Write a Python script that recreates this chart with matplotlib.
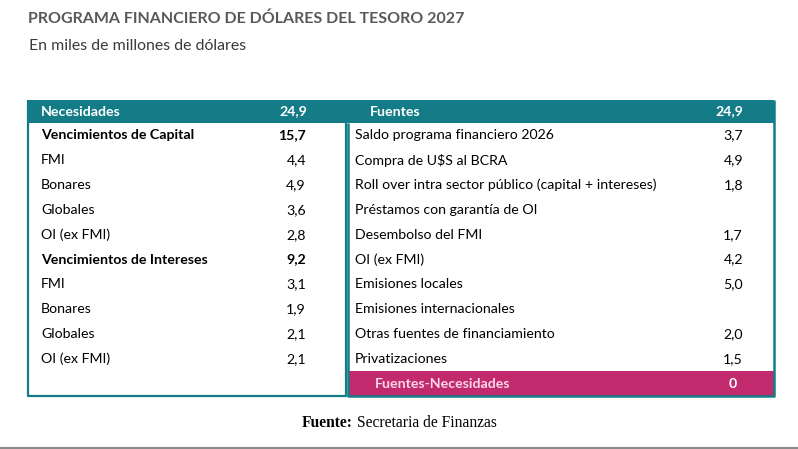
import matplotlib.pyplot as plt
import matplotlib.patches as mpatches

# data
titulo = "PROGRAMA FINANCIERO DE DÓLARES DEL TESORO 2027"
subtitulo = "En miles de millones de dólares"
fuente = "Secretaria de Finanzas"

nec_total = "24,9"
fuentes_total = "24,9"
nec_labels = ["Vencimientos de Capital", "FMI", "Bonares", "Globales", "OI (ex FMI)",
              "Vencimientos de Intereses", "FMI", "Bonares", "Globales", "OI (ex FMI)"]
nec_values = ["15,7", "4,4", "4,9", "3,6", "2,8", "9,2", "3,1", "1,9", "2,1", "2,1"]
nec_bold = [True, False, False, False, False, True, False, False, False, False]

fte_labels = ["Saldo programa financiero 2026", "Compra de U$S al BCRA",
              "Roll over intra sector público (capital + intereses)",
              "Préstamos con garantía de OI", "Desembolso del FMI", "OI (ex FMI)",
              "Emisiones locales", "Emisiones internacionales",
              "Otras fuentes de financiamiento", "Privatizaciones"]
fte_values = ["3,7", "4,9", "1,8", "", "1,7", "4,2", "5,0", "", "2,0", "1,5"]
diferencia = "0"

TEAL = "#147c87"
PINK = "#c22a6e"
SANS = "Lato"

W, H = 798, 449
fig = plt.figure(figsize=(W / 100, H / 100), dpi=100)
ax = fig.add_axes([0, 0, 1, 1])
ax.set_xlim(0, W)
ax.set_ylim(H, 0)
ax.axis("off")

fs = 10.2
ax.text(28, 19, titulo, fontsize=11.5, fontweight="bold", color="#595959",
        family=SANS, va="center")
ax.text(29, 46, subtitulo, fontsize=11.4, color="#3a3a3a", family=SANS, va="center")

top, head_h, bottom = 100, 23, 396
left, mid_l, mid_r, right = 28, 346, 348, 774
row_h = (bottom - top - head_h) / 11.0

# header band
ax.add_patch(mpatches.Rectangle((left, top), right - left, head_h, color=TEAL, lw=0))
ax.text(41, top + head_h / 2, "Necesidades", color="white", fontweight="bold",
        fontsize=fs, family=SANS, va="center")
ax.text(307, top + head_h / 2, nec_total, color="white", fontweight="bold",
        fontsize=fs, family=SANS, va="center", ha="right")
ax.text(370, top + head_h / 2, "Fuentes", color="white", fontweight="bold",
        fontsize=fs, family=SANS, va="center")
ax.text(743, top + head_h / 2, fuentes_total, color="white", fontweight="bold",
        fontsize=fs, family=SANS, va="center", ha="right")

# rows
y0 = top + head_h
for i, (lab, val, b) in enumerate(zip(nec_labels, nec_values, nec_bold)):
    y = y0 + row_h * (i + 0.5)
    w = "bold" if b else "normal"
    ax.text(41, y, lab, fontsize=fs, family=SANS, va="center", fontweight=w, color="black")
    ax.text(306, y, val, fontsize=fs, family=SANS, va="center", ha="right",
            fontweight=w, color="black")

for i, (lab, val) in enumerate(zip(fte_labels, fte_values)):
    y = y0 + row_h * (i + 0.5)
    ax.text(355, y, lab, fontsize=fs, family=SANS, va="center", color="black")
    ax.text(743, y, val, fontsize=fs, family=SANS, va="center", ha="right", color="black")

# difference row
yd = y0 + row_h * 10
ax.add_patch(mpatches.Rectangle((mid_r, yd), right - mid_r, bottom - yd, color=PINK, lw=0))
ax.text(375, yd + row_h / 2, "Fuentes-Necesidades", color="#fbd6e8", fontweight="bold",
        fontsize=fs, family=SANS, va="center")
ax.text(733, yd + row_h / 2, diferencia, color="white", fontweight="bold",
        fontsize=fs, family=SANS, va="center", ha="center")

# borders
ax.plot([left, left, mid_l, mid_l], [top, bottom, bottom, y0], color=TEAL, lw=1.6,
        solid_capstyle="butt")
ax.plot([mid_r, mid_r, right, right], [y0, bottom, bottom, top], color=TEAL, lw=1.8,
        solid_capstyle="butt")

# source
ax.text(302, 423, "Fuente:", fontsize=11.2, fontweight="bold", family="Liberation Serif",
        va="center")
ax.text(357, 423, fuente, fontsize=11.2, family="Liberation Serif", va="center")

ax.plot([0, W], [448, 448], color="#8a8a8a", lw=1.5)

fig.savefig("out.png", dpi=100)
